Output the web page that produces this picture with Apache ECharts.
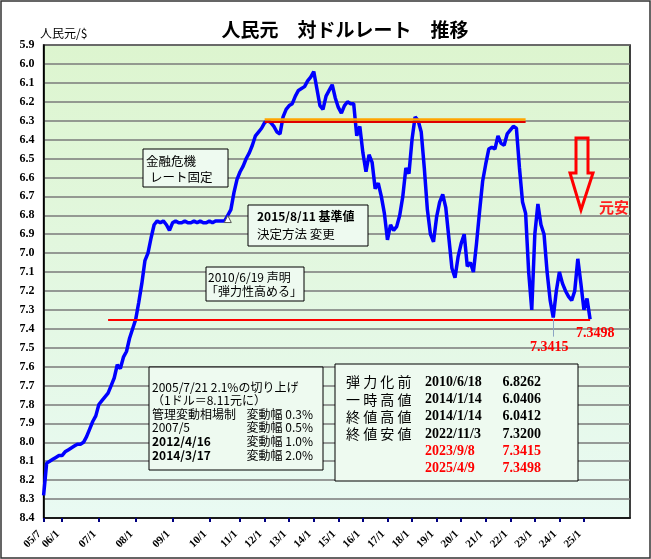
<!DOCTYPE html>
<html><head><meta charset="utf-8">
<script src="https://cdn.jsdelivr.net/npm/echarts/dist/echarts.min.js"></script>
<style>html,body{margin:0;padding:0;background:#fff}#c{width:651px;height:559px}</style>
</head><body><div id="c"></div>
<script>
// x-axis tick labels and number of observation slots after each labelled date
const tickLabels = ['05/7','06/1','07/1','08/1','09/1','10/1','11/1','12/1','13/1','14/1','15/1','16/1','17/1','18/1','19/1','20/1','21/1','22/1','23/1','24/1','25/1'];
const slotsPerTick = [6,12,12,12,12,10,8,8,8,8,8,8,8,8,8,8,8,8,8,8,16];
// CNY per USD
const rate = [
8.28,8.11,8.10,8.09,8.08,8.07,8.07,8.05,8.04,8.03,8.02,8.01,8.01,8.00,7.97,7.93,7.89,7.86,7.80,7.78,
7.76,7.74,7.70,7.66,7.59,7.61,7.55,7.52,7.45,7.40,7.35,7.26,7.16,7.04,7.00,6.92,6.85,6.83,6.84,6.83,
6.85,6.88,6.84,6.83,6.84,6.84,6.83,6.84,6.84,6.83,6.84,6.83,6.84,6.84,6.83,6.84,6.83,6.83,6.83,6.83,
6.80,6.77,6.68,6.61,6.57,6.54,6.50,6.47,6.43,6.38,6.36,6.34,6.31,6.30,6.31,6.33,6.36,6.37,6.28,6.24,
6.22,6.21,6.17,6.14,6.13,6.12,6.09,6.07,6.04,6.13,6.22,6.24,6.17,6.14,6.11,6.18,6.23,6.26,6.22,6.20,
6.21,6.21,6.38,6.33,6.47,6.57,6.48,6.52,6.66,6.63,6.70,6.79,6.93,6.85,6.88,6.86,6.80,6.70,6.55,6.58,
6.40,6.28,6.30,6.36,6.55,6.77,6.90,6.94,6.81,6.73,6.69,6.76,6.92,7.08,7.13,7.02,6.95,6.90,7.07,7.05,
7.10,6.95,6.78,6.62,6.53,6.45,6.44,6.45,6.38,6.42,6.43,6.37,6.35,6.33,6.34,6.55,6.73,6.79,7.10,7.30,
6.90,6.74,6.85,6.90,7.10,7.25,7.34,7.20,7.10,7.16,7.20,7.23,7.25,7.20,7.03,7.16,7.30,7.24,7.35
];
const resistLevel = 6.30, resistFrom = 72, resistTo = 157;
const supportLevel = 7.3498, supportFrom = 21, supportTo = 178;
const lowIdx = 166, lowVal = 7.3415;
const announceIdx = 60, announceVal = 6.82;

const noteLeft = ['2005/7/21 2.1%の切り上げ','（1ドル＝8.11元に）','管理変動相場制','2007/5','2012/4/16','2014/3/17'];
const noteRight = ['','','変動幅 0.3%','変動幅 0.5%','変動幅 1.0%','変動幅 2.0%'];
const tblLabel = ['弾力化前','一時高値','終値高値','終値安値','',''];
const tblDate = ['2010/6/18','2014/1/14','2014/1/14','2022/11/3','2023/9/8','2025/4/9'];
const tblValue = ['6.8262','6.0406','6.0412','7.3200','7.3415','7.3498'];

const categories = [];
tickLabels.forEach((lab,i)=>{categories.push(lab);for(let k=1;k<slotsPerTick[i];k++)categories.push('');});

const JP = '"Noto Sans CJK JP"';
const SERIF = '"Liberation Serif"';
const BOXBG = '#eefaf0';
function txt(x,y,text,font,fill,align){return {type:'text',z:110,style:{x:x,y:y,text:text,font:font,fill:fill||'#000',align:align||'left',verticalAlign:'middle'}};}
function box(x,y,w,h){return {type:'rect',z:105,shape:{x:x,y:y,width:w,height:h},style:{fill:BOXBG,stroke:'#000',lineWidth:1}};}

const graphics = [
  {type:'rect',z:120,shape:{x:1,y:1,width:649,height:557},style:{fill:null,stroke:'#333',lineWidth:1.5}},
  txt(345,29.5,'人民元　対ドルレート　推移','bold 19px '+JP,'#000','center'),
  txt(40,33,'人民元/$','12px '+JP),
  box(143,149,85,38), txt(146,161,'金融危機','12.5px '+JP), txt(150,177,'レート固定','12.5px '+JP),
  box(248,205,120,41), txt(257,216,'2015/8/11 基準値','bold 12px '+JP), txt(257,234,'決定方法 変更','12.5px '+JP),
  box(206,267,98,34), txt(208,277,'2010/6/19 声明','12px '+JP), txt(206,291,'「弾力性高める」','12px '+JP),
  box(149,367,174,103),
  box(335,364,243,117),
  {type:'polygon',z:110,shape:{points:[[576,138],[588,138],[588,173],[593,173],[581,210],[570,173],[576,173]]},style:{fill:null,stroke:'#ff0000',lineWidth:3}},
  txt(599,207,'元安','bold 15px '+JP,'#ff2020'),
  txt(576,333,'7.3498','bold 14px '+SERIF,'#ff0000'),
  txt(530,347,'7.3415','bold 14px '+SERIF,'#ff0000')
];
noteLeft.forEach((t,i)=>{
  const bold = i>=4;
  graphics.push(txt(152,387+i*13.6,t,(bold?'bold ':'')+'12px '+JP));
  if(noteRight[i]) graphics.push(txt(313,387+i*13.6,noteRight[i],'12px '+JP,'#000','right'));
});
tblLabel.forEach((t,i)=>{
  const y = 382+i*17.3;
  const red = i>=4;
  if(t) graphics.push({type:'text',z:110,style:{x:346,y:y,text:t.split('').join(' '),font:'14px '+JP,fill:'#000',verticalAlign:'middle'}});
  graphics.push(txt(425,y,tblDate[i],'bold 14px '+SERIF,red?'#ff0000':'#000'));
  graphics.push(txt(541,y,tblValue[i],'bold 14px '+SERIF,red?'#ff0000':'#000','right'));
});

const chart = echarts.init(document.getElementById('c'));
const showTick = (idx,val)=>val!=='';
chart.setOption({
  animation:false,
  backgroundColor:'#ffffff',
  grid:{left:43.6,top:45,right:21,bottom:41,show:true,borderColor:'#000',borderWidth:1.5,
    backgroundColor:{type:'linear',x:0,y:0,x2:0,y2:1,colorStops:[{offset:0,color:'#ddf5cf'},{offset:1,color:'#e9faf3'}]}},
  xAxis:{type:'category',data:categories,boundaryGap:false,
    axisLine:{lineStyle:{color:'#000',width:1.5}},
    axisTick:{show:true,interval:showTick,length:4,lineStyle:{color:'#000080',width:2}},
    axisLabel:{interval:showTick,rotate:45,margin:10,padding:[0,6,0,0],color:'#000',fontFamily:'Liberation Serif',fontWeight:'bold',fontSize:11},
    splitLine:{show:false}},
  yAxis:{type:'value',inverse:true,min:5.9,max:8.4,interval:0.1,
    axisLine:{show:true,lineStyle:{color:'#000',width:1.5}},axisTick:{show:false},
    axisLabel:{margin:9,color:'#000',fontFamily:'Liberation Serif',fontWeight:'bold',fontSize:12,formatter:v=>v.toFixed(1)},
    splitLine:{lineStyle:{color:'#7a7a7a',width:1.5}}},
  series:[{
    type:'line',data:rate,symbol:'none',lineStyle:{color:'#0000ff',width:3.5},z:3,
    markLine:{silent:true,symbol:'none',label:{show:false},
      data:[
        [{coord:[resistFrom,resistLevel-0.005],lineStyle:{color:'#ffa500',width:2.5,type:'solid'}},{coord:[resistTo,resistLevel-0.005]}],
        [{coord:[resistFrom,resistLevel+0.005],lineStyle:{color:'#e00000',width:2,type:'solid'}},{coord:[resistTo,resistLevel+0.005]}],
        [{coord:[supportFrom,supportLevel],lineStyle:{color:'#ff0000',width:2,type:'solid'}},{coord:[supportTo,supportLevel]}],
        [{coord:[lowIdx,lowVal+0.005],lineStyle:{color:'#8ca4c4',width:1,type:'solid'}},{coord:[lowIdx,lowVal+0.1]}]
      ]},
    markPoint:{silent:true,data:[{coord:[announceIdx,announceVal],symbol:'triangle',symbolSize:7,itemStyle:{color:'#fff',borderColor:'#555',borderWidth:1},label:{show:false}}]}
  }],
  graphic:graphics
});
</script></body></html>
